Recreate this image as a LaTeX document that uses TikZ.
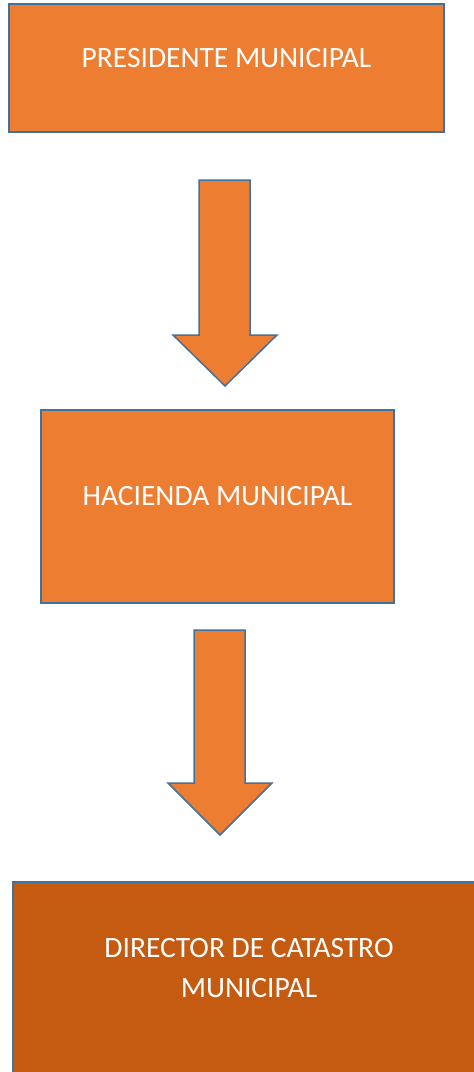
\documentclass[tikz,border=0pt]{standalone}
\usepackage{fontspec}
\setmainfont{Carlito}
\definecolor{orgFill}{HTML}{ED7D31}
\definecolor{orgDark}{HTML}{C55A11}
\definecolor{orgLine}{HTML}{41719C}
\usetikzlibrary{positioning}

\begin{document}
\begin{tikzpicture}[x=1pt, y=-1pt,
  box/.style={draw=orgLine, line width=1.5pt, fill=orgFill},
  label/.style={text=white, font=\fontsize{29.5}{40}\selectfont, align=center},
  blockarrow/.style={draw=orgLine, line width=1.5pt, fill=orgFill, line join=miter}
]
  \useasboundingbox (0,0) rectangle (474,1072);
  \begin{scope}
  \clip (0,0) rectangle (474,1072);
  % boxes
  \draw[box] (9,4) rectangle (444,132);
  \node[label] (pres) at (226.5,58) {PRESIDENTE MUNICIPAL};
  \draw[box] (41,410) rectangle (394,603);
  \node[label] (hacienda) at (217.5,496) {HACIENDA MUNICIPAL};
  \draw[box, fill=orgDark] (13,882) rectangle (486,1078);
  \node[label] (catastro) at (249,968) {DIRECTOR DE CATASTRO\\MUNICIPAL};
  % arrows
  \draw[blockarrow] (199,180) -- (250,180) -- (250,335) -- (277,335) -- (225,386)
    -- (173,335) -- (199,335) -- cycle;
  \draw[blockarrow] (194,630) -- (245,630) -- (245,783) -- (272,783) -- (220,835)
    -- (168,783) -- (194,783) -- cycle;
  \end{scope}
\end{tikzpicture}
\end{document}
